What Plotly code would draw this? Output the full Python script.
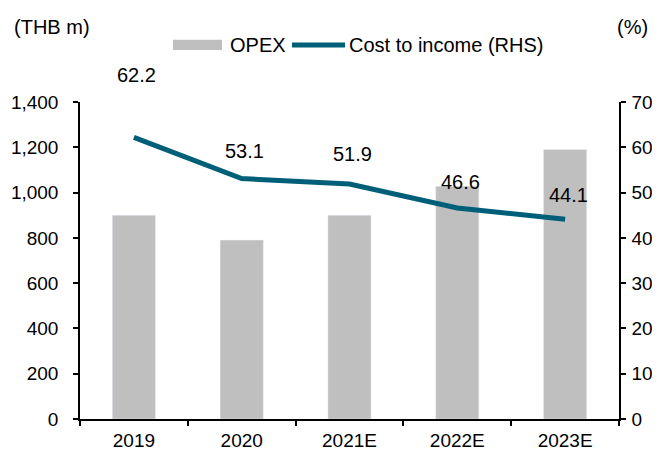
import plotly.graph_objects as go

categories = ["2019", "2020", "2021E", "2022E", "2023E"]
opex = [900, 790, 900, 1028, 1190]
cost_to_income = [62.2, 53.1, 51.9, 46.6, 44.1]
left_ticks = [0, 200, 400, 600, 800, 1000, 1200, 1400]
right_ticks = [0, 10, 20, 30, 40, 50, 60, 70]

FONT = "Liberation Sans, Arial, sans-serif"
LINE_COLOR = "#005f78"
BAR_COLOR = "#bfbfbf"
TICK_SIZE = 19
TEXT_SIZE = 20

fig = go.Figure()
fig.add_trace(go.Bar(x=categories, y=opex, name="OPEX", marker_color=BAR_COLOR,
                     width=0.4, yaxis="y", showlegend=False))
fig.add_trace(go.Scatter(x=categories, y=cost_to_income, name="Cost to income (RHS)",
                         mode="lines", line=dict(color=LINE_COLOR, width=5),
                         yaxis="y2", showlegend=False))

shifts = [62, 28, 30, 26, 24]
for i, (v, s) in enumerate(zip(cost_to_income, shifts)):
    fig.add_annotation(x=i, y=v, xref="x", yref="y2", text=f"{v:.1f}", showarrow=False,
                       yshift=s, xshift=3, font=dict(size=TEXT_SIZE, color="#000"))

axis_common = dict(showline=True, linecolor="#000", linewidth=1.5, ticks="outside",
                   ticklen=5, tickwidth=1.5, tickcolor="#000", showgrid=False,
                   zeroline=False, tickfont=dict(size=TICK_SIZE))

fig.update_layout(
    width=652, height=444,
    margin=dict(l=72, r=41, t=94, b=33, autoexpand=False),
    plot_bgcolor="white", paper_bgcolor="white",
    font=dict(family=FONT, size=TICK_SIZE, color="#000"),
    showlegend=False,
    xaxis=dict(type="category", categoryorder="array", categoryarray=categories,
               tickangle=0, tickson="boundaries", ticklabelstandoff=3, **axis_common),
    yaxis=dict(range=[0, 1400], tickvals=left_ticks, tickformat=",d",
               ticklabelstandoff=11, **axis_common),
    yaxis2=dict(range=[0, 70], tickvals=right_ticks, overlaying="y", side="right",
                ticklabelstandoff=2, **axis_common),
)

# Manual legend (paper coordinates)
LEG_Y = 1.18
fig.add_shape(type="rect", xref="paper", yref="paper", x0=0.1725, x1=0.2635,
              y0=LEG_Y - 0.016, y1=LEG_Y + 0.016, fillcolor=BAR_COLOR, line_width=0)
fig.add_annotation(xref="paper", yref="paper", x=0.2746, y=LEG_Y, text="OPEX",
                   showarrow=False, xanchor="left", yanchor="middle",
                   font=dict(size=TEXT_SIZE))
fig.add_shape(type="line", xref="paper", yref="paper", x0=0.3933, x1=0.4917,
              y0=LEG_Y, y1=LEG_Y, line=dict(color=LINE_COLOR, width=5))
fig.add_annotation(xref="paper", yref="paper", x=0.4954, y=LEG_Y,
                   text="Cost to income (RHS)", showarrow=False, xanchor="left",
                   yanchor="middle", font=dict(size=TEXT_SIZE))

fig.add_annotation(xref="paper", yref="paper", x=-0.126, y=1.2366, text="(THB m)",
                   showarrow=False, xanchor="left", yanchor="middle",
                   font=dict(size=TEXT_SIZE))
fig.add_annotation(xref="paper", yref="paper", x=1.0575, y=1.2366, text="(%)",
                   showarrow=False, xanchor="right", yanchor="middle",
                   font=dict(size=TEXT_SIZE))

fig.write_html("out.html")
